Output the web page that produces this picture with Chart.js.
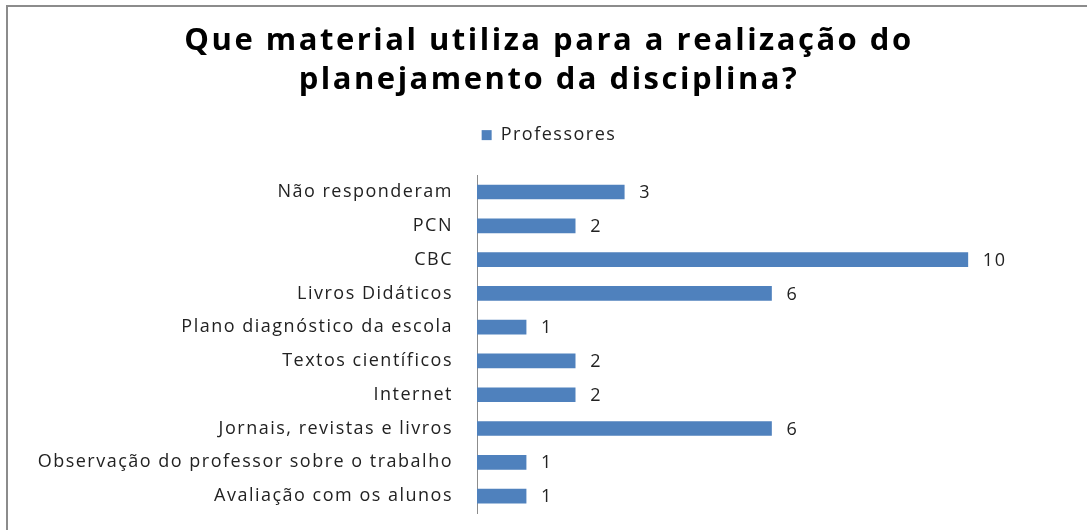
<!DOCTYPE html>
<html>
<head>
<meta charset="utf-8">
<script src="https://cdn.jsdelivr.net/npm/chart.js@4.4.0/dist/chart.umd.min.js"></script>
<style>
  html, body { margin: 0; padding: 0; background: #fff; }
  #wrap { position: relative; width: 1087px; height: 530px; overflow: hidden; }
  #frame {
    position: absolute; left: 6px; top: 5px; width: 1200px; height: 600px;
    border-top: 2px solid #8c8c8c; border-left: 2px solid #8c8c8c;
    pointer-events: none;
  }
</style>
</head>
<body>
<div id="wrap">
  <canvas id="chart" width="1087" height="530"></canvas>
  <div id="frame"></div>
</div>
<script>
// ========== DATA ==========
const titleLines = ['Que material utiliza para a realização do', 'planejamento da disciplina?'];
const seriesName = 'Professores';
const categories = [
    'Não responderam',
    'PCN',
    'CBC',
    'Livros Didáticos',
    'Plano diagnóstico da escola',
    'Textos científicos',
    'Internet',
    'Jornais, revistas e livros',
    'Observação do professor sobre o trabalho',
    'Avaliação com os alunos'
];
const professores = [3, 2, 10, 6, 1, 2, 2, 6, 1, 1];

const BAR_COLOR = '#4f81bd';
const FONT = "'Open Sans', sans-serif";
const SPACING = '1.5px';     // texto do gráfico original é mais largo
const TITLE_SPACING = '2.5px';

// espaçamento de letras (o canvas é reiniciado no resize, então reaplica)
const letterSpacing = {
    id: 'letterSpacing',
    beforeUpdate(chart) { chart.ctx.letterSpacing = SPACING; },
    beforeDraw(chart) {
        chart.ctx.letterSpacing = SPACING;
        const tb = chart.titleBlock;
        if (tb && !tb._spaced) {
            const orig = tb.draw.bind(tb);
            tb.draw = function() {
                const c = chart.ctx;
                c.save();
                c.letterSpacing = TITLE_SPACING;
                orig();
                c.restore();
            };
            tb._spaced = true;
        }
    }
};

// rótulos de valor ao lado das barras
const valueLabels = {
    id: 'valueLabels',
    afterDatasetsDraw(chart) {
        const ctx = chart.ctx;
        const meta = chart.getDatasetMeta(0);
        ctx.save();
        ctx.letterSpacing = SPACING;
        ctx.font = '18px ' + FONT;
        ctx.fillStyle = '#222';
        ctx.textAlign = 'left';
        ctx.textBaseline = 'middle';
        meta.data.forEach((bar, i) => {
            ctx.fillText(String(professores[i]), bar.x + 15, bar.y + 1);
        });
        ctx.restore();
    }
};

const ctx = document.getElementById('chart').getContext('2d');
new Chart(ctx, {
    type: 'bar',
    data: {
        labels: categories,
        datasets: [{
            label: seriesName,
            data: professores,
            backgroundColor: BAR_COLOR,
            barThickness: 14
        }]
    },
    options: {
        indexAxis: 'y',
        responsive: false,
        animation: false,
        layout: { padding: { left: 32, right: 21, top: 0, bottom: 17 } },
        plugins: {
            title: {
                display: true,
                text: titleLines,
                color: '#000',
                font: { family: FONT, size: 31, weight: 'bold', lineHeight: 1.26 },
                padding: { top: 22, bottom: 16 }
            },
            legend: {
                display: true,
                labels: {
                    boxWidth: 10,
                    boxHeight: 10,
                    color: '#222',
                    font: { family: FONT, size: 18 }
                }
            },
            tooltip: { enabled: false }
        },
        scales: {
            x: {
                position: 'top',
                min: 0,
                max: 12,
                grid: { display: false },
                border: { display: false },
                ticks: { display: false },
                afterFit(scale) { scale.height = 21; }
            },
            y: {
                grid: { display: false, tickLength: 21 },
                border: { display: true, color: '#8c8c8c', width: 1 },
                ticks: {
                    color: '#222',
                    padding: 3,
                    font: { family: FONT, size: 18 }
                },
                afterFit(scale) { scale.width = 445; }
            }
        }
    },
    plugins: [letterSpacing, valueLabels]
});
</script>
</body>
</html>
